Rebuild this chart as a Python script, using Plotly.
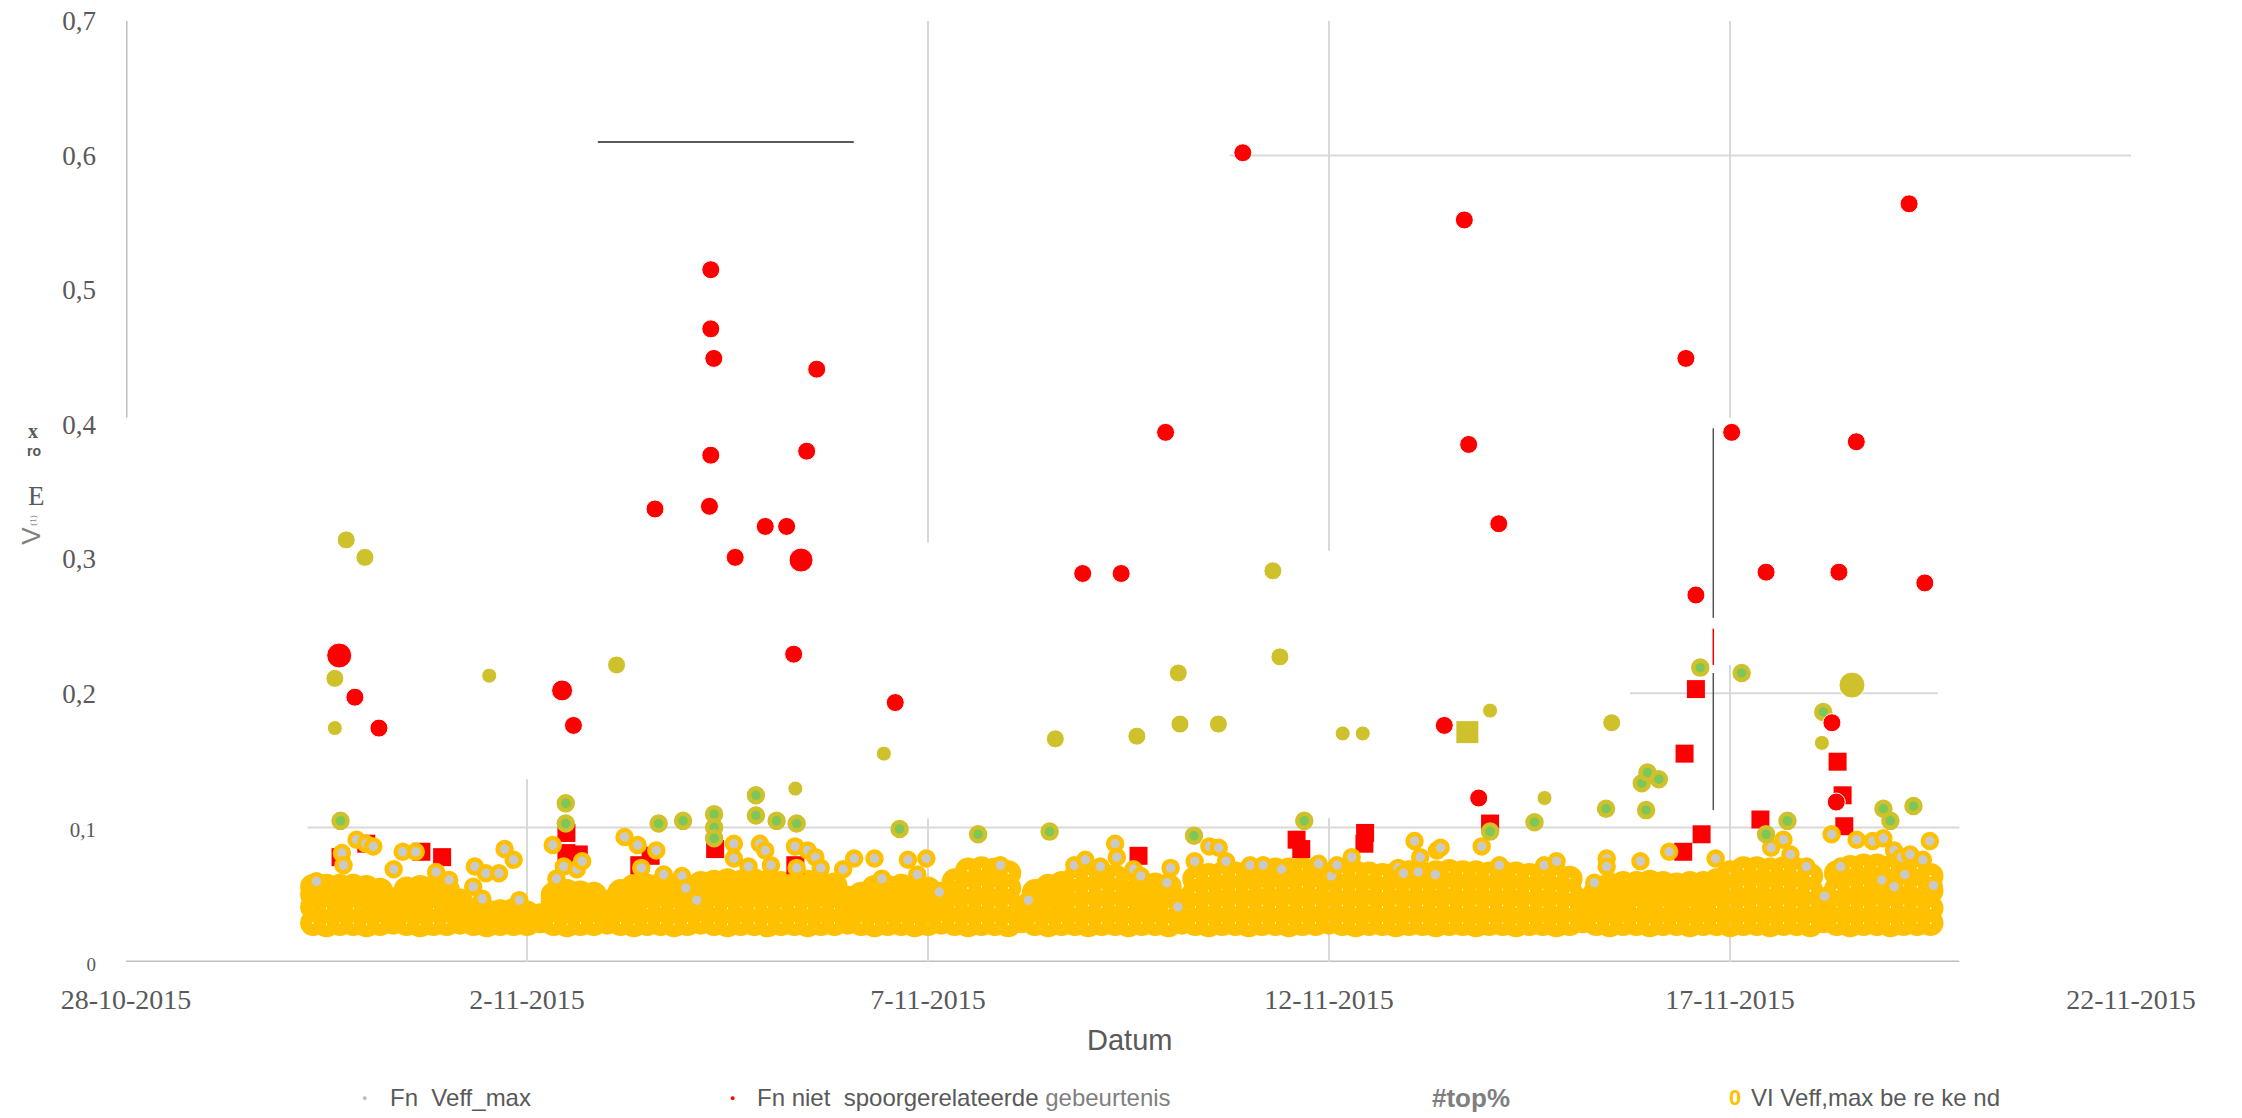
import pandas as pd
import plotly.graph_objects as go

START = pd.Timestamp("2015-10-28 00:00")

# ---------------- data (hours since 28-10-2015 00:00, values in m/s) ----------------
tick_hours = [0, 120, 240, 360, 480, 600]
tick_labels = ["28-10-2015", "2-11-2015", "7-11-2015", "12-11-2015", "17-11-2015", "22-11-2015"]
y_ticks = [0, 0.1, 0.2, 0.3, 0.4, 0.5, 0.6, 0.7]
y_tick_labels = ["0", "0,1", "0,2", "0,3", "0,4", "0,5", "0,6", "0,7"]

# dense mass of "VI Veff,max berekend" points
body_hours = [56, 60, 64, 68, 72, 76, 80, 84, 88, 92,
              96, 100, 104, 108, 112, 116, 120, 124, 128, 132,
              136, 140, 144, 148, 152, 156, 160, 164, 168, 172,
              176, 180, 184, 188, 192, 196, 200, 204, 208, 212,
              216, 220, 224, 228, 232, 236, 240, 244, 248, 252,
              256, 260, 264, 268, 272, 276, 280, 284, 288, 292,
              296, 300, 304, 308, 312, 316, 320, 324, 328, 332,
              336, 340, 344, 348, 352, 356, 360, 364, 368, 372,
              376, 380, 384, 388, 392, 396, 400, 404, 408, 412,
              416, 420, 424, 428, 432, 436, 440, 444, 448, 452,
              456, 460, 464, 468, 472, 476, 480, 484, 488, 492,
              496, 500, 504, 508, 512, 516, 520, 524, 528, 532,
              536, 540]
body_low = [.029, .028, .029, .029, .028, .029, .030, .029, .028, .029,
            .029, .030, .029, .028, .029, .029, .029, .031, .029, .028,
            .029, .029, .030, .029, .028, .029, .029, .028, .029, .030,
            .029, .028, .029, .029, .028, .029, .029, .028, .029, .029,
            .030, .029, .028, .029, .029, .028, .029, .030, .029, .028,
            .029, .029, .028, .031, .029, .028, .029, .029, .028, .029,
            .029, .028, .029, .029, .028, .030, .029, .028, .029, .029,
            .028, .029, .029, .028, .029, .029, .030, .029, .028, .029,
            .029, .028, .029, .029, .028, .029, .029, .028, .029, .029,
            .028, .029, .029, .028, .029, .031, .029, .028, .029, .029,
            .028, .029, .029, .028, .029, .029, .028, .029, .029, .028,
            .029, .029, .028, .031, .029, .028, .029, .029, .028, .029,
            .029, .029]
body_mid = [.041, .040, .041, .040, .041, .040, .038, .040, .041, .040,
            .040, .037, .033, .033, .033, .033, .032, .031, .040, .041,
            .040, .041, .037, .040, .041, .040, .041, .040, .041, .040,
            .041, .040, .041, .040, .041, .040, .041, .040, .041, .040,
            .038, .040, .041, .040, .041, .040, .041, .040, .041, .042,
            .042, .041, .042, .034, .040, .041, .042, .041, .042, .041,
            .042, .041, .042, .041, .040, .037, .041, .042, .041, .042,
            .041, .042, .041, .042, .041, .042, .041, .042, .041, .042,
            .041, .042, .041, .042, .041, .042, .041, .042, .041, .042,
            .041, .042, .041, .042, .041, .037, .040, .041, .042, .041,
            .042, .041, .042, .041, .042, .041, .042, .041, .042, .041,
            .042, .041, .042, .036, .041, .042, .041, .042, .041, .042,
            .041, .040]
body_up = [.050, .051, .050, .051, .050, .049, .043, .049, .050, .050,
           .049, .041, .035, .035, .035, .035, .034, .032, .046, .047,
           .046, .046, .041, .047, .050, .050, .051, .050, .049, .051,
           .052, .052, .051, .052, .051, .051, .052, .051, .051, .050,
           .043, .046, .049, .049, .050, .049, .049, .046, .051, .055,
           .056, .055, .055, .037, .047, .050, .051, .052, .053, .054,
           .053, .051, .051, .050, .050, .041, .052, .053, .054, .054,
           .054, .055, .055, .055, .056, .055, .053, .054, .054, .054,
           .053, .054, .054, .054, .054, .055, .054, .054, .054, .054,
           .054, .053, .054, .053, .052, .041, .047, .050, .051, .051,
           .051, .051, .050, .051, .051, .052, .054, .056, .056, .055,
           .056, .055, .053, .039, .054, .056, .057, .057, .056, .057,
           .056, .053]
body_top = [.056, .056, .056, .056, .055, .053, .046, .054, .055, .055,
            .054, .045, .038, .037, .037, .038, .036, .034, .050, .052,
            .051, .050, .044, .052, .056, .056, .057, .056, .055, .058,
            .059, .060, .059, .060, .059, .058, .059, .059, .058, .057,
            .047, .050, .055, .055, .056, .055, .054, .050, .060, .068,
            .069, .068, .066, .040, .052, .056, .058, .062, .064, .065,
            .063, .060, .058, .057, .056, .045, .062, .064, .065, .065,
            .066, .067, .068, .068, .069, .068, .064, .066, .066, .065,
            .064, .065, .066, .065, .066, .067, .066, .066, .065, .066,
            .065, .064, .065, .064, .062, .045, .052, .057, .058, .058,
            .059, .058, .057, .058, .058, .060, .066, .069, .069, .068,
            .069, .068, .064, .042, .066, .070, .071, .071, .070, .071,
            .070, .064]

# Fn Veff_max points visible on top of the mass
veff_hours = [57, 64.6, 65.1, 69.0, 71.8, 74, 80.1, 82.8, 86.7, 92.8, 96.7, 104.4, 103.9, 106.6,
              107.7, 111.6, 113.3, 116.0, 117.7, 127.7, 128.8, 131.0, 134.9, 136.5, 149.2, 153.1,
              154.2, 158.7, 160.9, 166.4, 167.5, 170.8, 181.9, 181.9, 186.3, 189.7, 191.3, 193.0,
              200.2, 200.7, 204.0, 206.3, 207.9, 214.6, 217.9,
              224.0, 226.2, 234.0, 236.8, 239.5, 243.4, 261.7, 270.0, 283.8, 287.1, 291.6, 296.0,
              296.5, 301.5, 303.7, 311.5, 312.6, 314.8, 319.8, 324.2, 327.0, 329.2, 336.4, 340.3,
              345.8, 356.9, 360.7, 362.4, 366.8, 380.7, 382.3, 385.6, 386.7, 387.3, 392.3,
              391.8, 393.4, 405.7, 411.0, 424.4, 428.1, 439.4, 443.1, 443.1, 453.2, 461.8, 475.7,
              492.3, 496.0, 498.1, 502.9, 508.3, 510.4, 513.1, 517.9, 522.7, 525.4, 525.9, 529.1,
              529.1, 531.3, 532.3, 533.9, 537.7, 539.8, 540.9]
veff_values = [.060, .081, .072, .091, .088, .086, .069, .082, .082, .067, .061, .071, .056, .047,
               .066, .066, .084, .076, .046, .087, .062, .071, .069, .075, .093, .087,
               .070, .083, .065, .064, .055, .046, .088, .077, .071, .088, .083, .072,
               .086, .070, .083, .078, .070, .069, .077,
               .077, .062, .076, .065, .077, .052, .072, .046, .072, .076, .071, .088,
               .078, .069, .064, .059, .070, .041, .075, .086, .085, .075, .072, .072,
               .069, .073, .064, .072, .078, .070, .066, .090, .067, .078, .083,
               .065, .085, .086, .072, .072, .075, .059, .077, .071, .075, .082, .077,
               .085, .091, .080, .071, .049, .095, .071, .091, .090, .061, .092, .083,
               .056, .078, .065, .080, .076, .090, .057]

# olive rings with green centre
green_hours = [64.2, 131.6, 131.6, 159.4, 166.7, 176.0, 176.0, 176.0, 188.5, 188.5, 194.7, 200.7,
               231.5, 255.0, 276.4, 319.6, 352.6, 408.2, 421.5, 442.9, 453.6, 454.9, 455.3, 458.7,
               471.1, 483.5, 490.8, 497.2, 507.9, 525.9, 528.0, 534.9]
green_values = [.105, .118, .103, .103, .105, .110, .100, .092, .124, .109, .105, .103,
                .099, .095, .097, .094, .105, .097, .104, .114, .133, .113, .141, .136,
                .219, .215, .095, .105, .186, .114, .105, .116]

# red squares
sq_hours = [64.2, 71.9, 88.4, 94.6, 131.8, 131.8, 135.5, 153.6, 157.0, 176.3, 200.3, 303.0,
            350.3, 351.7, 370.8, 370.6, 408.2, 466.0, 471.5, 489.1, 514.2, 513.7, 466.4, 469.8, 512.2]
sq_values = [.078, .088, .082, .078, .096, .081, .080, .072, .079, .084, .072, .079,
             .091, .084, .096, .088, .103, .082, .095, .106, .101, .124, .155, .203, .149]

# Fn niet spoorgerelateerde gebeurtenis (red dots)
red_hours = [63.8, 68.5, 75.7, 130.5, 133.9, 158.3, 175.0, 175.0, 175.9, 175.0, 174.6, 182.3,
             191.3, 197.7, 206.7, 203.7, 202.0, 199.8, 230.2, 286.3, 297.8, 311.1, 334.2, 400.5,
             401.8, 410.8, 394.5, 404.8, 466.8, 469.8, 480.5, 490.8, 512.6, 517.8, 533.6, 538.3,
             510.5, 511.8]
red_values = [.228, .197, .174, .202, .176, .337, .515, .471, .449, .377, .339, .301,
              .324, .324, .441, .380, .299, .229, .193, .289, .289, .394, .602, .552,
              .385, .326, .176, .122, .449, .273, .394, .290, .290, .387, .564, .282,
              .178, .119]

# olive dots
olive_hours = [65.9, 71.5, 62.5, 62.5, 108.7, 146.8, 200.3, 226.8, 278.1, 302.5, 314.9, 315.4,
               326.9, 343.2, 345.3, 364.1, 370.1, 408.2, 424.5, 444.6, 507.5, 516.5]
olive_values = [.314, .301, .211, .174, .213, .221, .129, .155, .166, .168, .215, .177,
                .177, .291, .227, .170, .170, .187, .122, .178, .163, .206]
olive_sq_hours = [401.4]
olive_sq_values = [.171]

# ---------------- styles ----------------
YELLOW = "#FFC000"
GRAY = "#C9C9C9"
RED = "#FF0000"
OLIVE = "#CEC12C"
GREEN = "#7CC757"
TXT = "#595959"
SERIF = "Liberation Serif, Times New Roman, serif"
NARROW = "Liberation Sans Narrow, Arial Narrow, Liberation Sans, Arial, sans-serif"

red_sizes = [18] * len(red_hours)
red_sizes[0] = 25
red_sizes[16] = 24
red_sizes[3] = 21
olive_sizes = [18] * len(olive_hours)
for i in (3, 4, 6, 7, 15, 16, 17, 18, 20):
    olive_sizes[i] = 15
olive_sizes[21] = 26


def T(hours):
    return [START + pd.Timedelta(hours=h) for h in hours]


fig = go.Figure()

bx = body_hours * 4
by = body_low + body_mid + body_up + body_top
fig.add_trace(go.Scatter(x=T(bx), y=by, mode="markers", name="VI Veff,max berekend",
                         marker=dict(symbol="circle-open", size=14, color=YELLOW, opacity=1,
                                     line=dict(width=12, color=YELLOW))))
fig.add_trace(go.Scatter(x=T(sq_hours), y=sq_values, mode="markers", name="squares",
                         marker=dict(symbol="square", size=18, color=RED, opacity=1)))
fig.add_trace(go.Scatter(x=T(veff_hours), y=veff_values, mode="markers", name="Fn Veff_max",
                         marker=dict(symbol="circle", size=14, color=GRAY, opacity=1,
                                     line=dict(width=4.5, color=YELLOW))))
fig.add_trace(go.Scatter(x=T(green_hours), y=green_values, mode="markers", name="green",
                         marker=dict(symbol="circle", size=14, color=GREEN, opacity=1,
                                     line=dict(width=4.5, color=OLIVE))))
fig.add_trace(go.Scatter(x=T(olive_hours), y=olive_values, mode="markers", name="olive",
                         marker=dict(symbol="circle", size=olive_sizes, color=OLIVE, opacity=1)))
fig.add_trace(go.Scatter(x=T(olive_sq_hours), y=olive_sq_values, mode="markers", name="olive sq",
                         marker=dict(symbol="square", size=22, color=OLIVE, opacity=1)))
fig.add_trace(go.Scatter(x=T(red_hours), y=red_values, mode="markers",
                         name="Fn niet spoorgerelateerde gebeurtenis",
                         marker=dict(symbol="circle", size=red_sizes, color=RED, opacity=1)))

# grid fragments
shapes = []


def seg(h0, h1, y0, y1, color="#D9D9D9", width=2):
    t0 = START + pd.Timedelta(hours=h0)
    t1 = START + pd.Timedelta(hours=h1)
    shapes.append(dict(type="line", xref="x", yref="y", x0=t0, x1=t1, y0=y0, y1=y1,
                       line=dict(color=color, width=width), layer="below"))


seg(0, 0, 0.405, 0.7, "#BFBFBF", 3)
seg(0, 548.6, 0.0, 0.0, "#BFBFBF", 3)
seg(120, 120, 0, 0.136)
seg(240, 240, 0.312, 0.7)
seg(240, 240, 0, 0.107)
seg(360, 360, 0.306, 0.7)
seg(360, 360, 0, 0.107)
seg(480, 480, 0.405, 0.7)
seg(480, 480, 0, 0.221)
seg(330.3, 600, 0.6, 0.6)
seg(54.3, 548.6, 0.1, 0.1)
seg(450.1, 542.2, 0.2, 0.2)
seg(141.2, 217.8, 0.61, 0.61, "#222222", 1.5)
seg(475.0, 475.0, 0.256, 0.397, "#555555", 1.5)
seg(475.0, 475.0, 0.221, 0.248, RED, 1.5)
seg(475.0, 475.0, 0.113, 0.215, "#555555", 1.5)

annotations = []


def ann(x, y, text, size, color=TXT, family=NARROW, xanchor="center", angle=0, bold=False):
    if bold:
        text = "<b>" + text + "</b>"
    annotations.append(dict(x=x, y=y, xref="paper", yref="paper", text=text, showarrow=False,
                            xanchor=xanchor, yanchor="middle", textangle=angle,
                            font=dict(size=size, color=color, family=family)))


# axis title and legend rows
ann(0.5005, -0.0829, "Datum", 29, TXT, "Liberation Sans, Arial, sans-serif")
ann(0.1192, -0.1445, "●", 9, "#BFBFBF")
ann(0.1307, -0.1445, "Fn&nbsp; Veff_max", 24, TXT, NARROW, "left")
ann(0.3027, -0.1445, "●", 9, RED)
ann(0.3137, -0.1445, "Fn niet&nbsp; spoorgerelateerde <span style='color:#7f7f7f'>gebeurtenis</span>",
    24, TXT, NARROW, "left")
ann(0.6504, -0.1445, "#top%", 26, "#7F7F7F", "Liberation Sans, Arial, sans-serif", "left", bold=True)
ann(0.8025, -0.1445, "0", 22, YELLOW, "Liberation Sans, Arial, sans-serif", bold=True)
ann(0.8095, -0.1445, "VI Veff,max be re ke nd", 24, TXT, NARROW, "left")
# y-axis title fragments
ann(-0.0466, 0.564, "x", 20, TXT, SERIF, bold=True)
ann(-0.0461, 0.543, "ro", 14, TXT, "Liberation Sans, Arial, sans-serif", bold=True)
ann(-0.0444, 0.495, "E", 27, TXT, SERIF)
ann(-0.0474, 0.453, "V", 26, "#7F7F7F", "Liberation Sans, Arial, sans-serif", angle=-90)
ann(-0.0464, 0.470, "(1)", 9, "#7F7F7F", SERIF, angle=-90)

y_text = []
for v, lab in zip(y_ticks, y_tick_labels):
    if v == 0:
        y_text.append("<span style='font-size:19px'>" + lab + "</span>")
    elif v == 0.1:
        y_text.append("<span style='font-size:21px'>" + lab + "</span>")
    else:
        y_text.append(lab)

fig.update_layout(
    width=2242, height=1118,
    margin=dict(l=126, r=111, t=21, b=156),
    paper_bgcolor="white", plot_bgcolor="white",
    showlegend=False,
    shapes=shapes, annotations=annotations,
    xaxis=dict(type="date", range=[START, START + pd.Timedelta(hours=600)],
               tickvals=T(tick_hours), ticktext=tick_labels, automargin=False,
               showgrid=False, zeroline=False, showline=False, ticks="",
               ticklabelstandoff=18, ticklabeloverflow="allow",
               tickfont=dict(family=SERIF, size=28, color=TXT)),
    yaxis=dict(range=[0, 0.7], tickvals=y_ticks, ticktext=y_text, automargin=False,
               showgrid=False, zeroline=False, showline=False, ticks="",
               ticklabelstandoff=29, ticklabeloverflow="allow",
               tickfont=dict(family=SERIF, size=27, color=TXT)),
)

# remove the default page margin so the figure fills the window exactly
fig.write_html("out.html", config={"displayModeBar": False},
               post_script="document.body.style.margin='0';document.body.style.overflow='hidden';")
